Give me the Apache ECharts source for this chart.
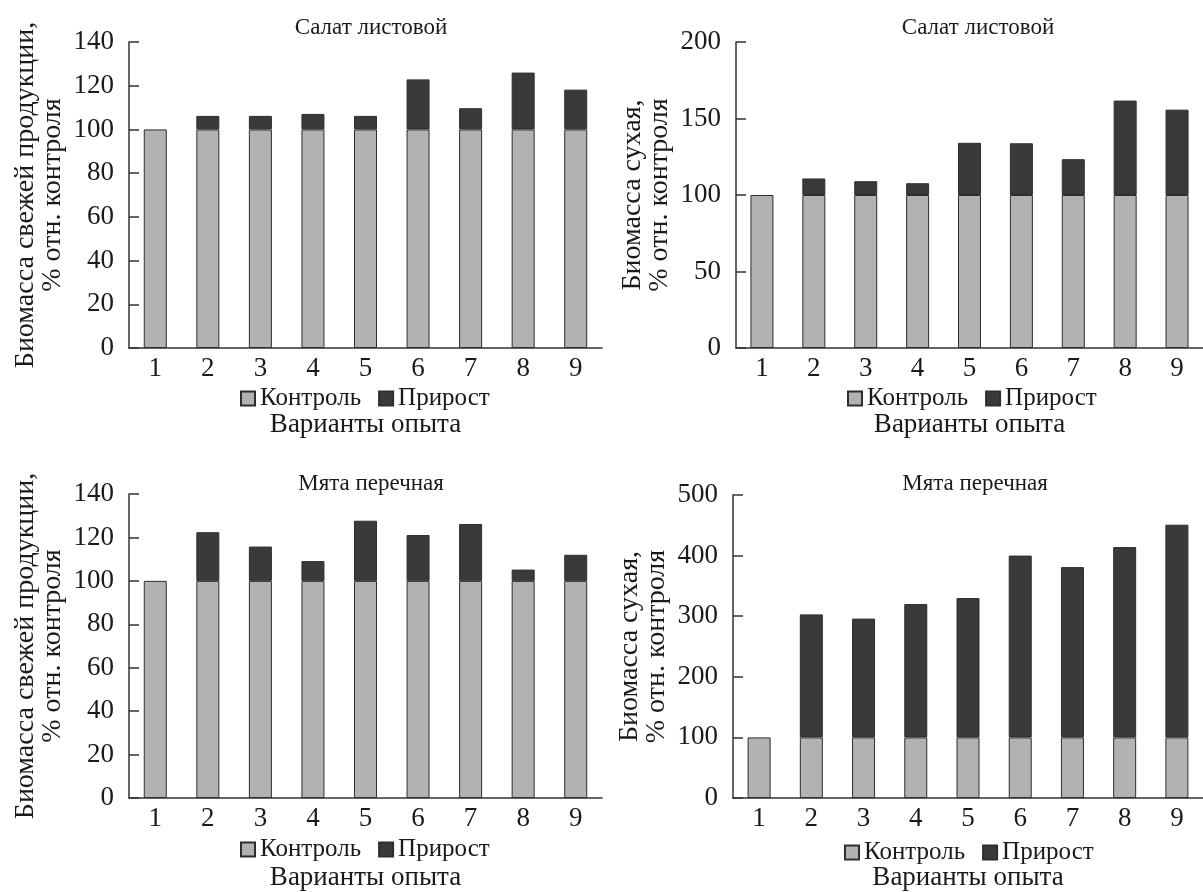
<!DOCTYPE html>
<html><head><meta charset="utf-8">
<script src="https://cdn.jsdelivr.net/npm/echarts@6/dist/echarts.min.js"></script>
<style>html,body{margin:0;padding:0;background:#fff}#c{width:1203px;height:892px}</style>
</head><body><div id="c"></div>
<script>
const categories = ['1','2','3','4','5','6','7','8','9'];
const seriesNames = ['Контроль', 'Прирост'];
const panelTitles = ['Салат листовой', 'Салат листовой', 'Мята перечная', 'Мята перечная'];
const yNames = ['Биомасса свежей продукции,\n% отн. контроля', 'Биомасса сухая,\n% отн. контроля',
                'Биомасса свежей продукции,\n% отн. контроля', 'Биомасса сухая,\n% отн. контроля'];
const xName = 'Варианты опыта';
const yMax = [140, 200, 140, 500];
const yStep = [20, 50, 20, 100];

// Panel 1: Салат листовой, fresh biomass
const control1 = [100,100,100,100,100,100,100,100,100];
const increase1 = [null,6.2,6.2,7.1,6.2,22.9,9.7,26.0,18.2];
// Panel 2: Салат листовой, dry biomass
const control2 = [100,100,100,100,100,100,100,100,100];
const increase2 = [null,10.8,9.0,7.7,34.1,33.8,23.4,61.7,55.8];
// Panel 3: Мята перечная, fresh biomass
const control3 = [100,100,100,100,100,100,100,100,100];
const increase3 = [null,22.4,15.8,9.1,27.7,21.1,26.2,5.2,12.0];
// Panel 4: Мята перечная, dry biomass
const control4 = [100,100,100,100,100,100,100,100,100];
const increase4 = [null,203,196,220,230,300,281,314,351];

const controls = [control1, control2, control3, control4];
const increases = [increase1, increase2, increase3, increase4];

const FONT = '"Liberation Serif", "DejaVu Serif", serif';
const TXT = '#1a1a1a';
const AX = '#333333';
const grids = [
  {left:129, top:42, width:473, height:306},
  {left:736, top:42, width:475, height:306},
  {left:129, top:494, width:473, height:306},
  {left:733, top:495, width:475, height:307}
];
const titlePos = [[366,11],[973,11],[366,467],[970,467]];
const legendPos = [[235,381],[842,381],[235,832],[839,835]];
const xNameGap = [63, 63, 66, 66];

const option = {
  animation:false,
  backgroundColor:'#fff',
  title: panelTitles.map((t,i)=>({text:t, left:titlePos[i][0], top:titlePos[i][1], textAlign:'center',
    textStyle:{fontFamily:FONT, fontSize:23, fontWeight:'normal', color:TXT}})),
  legend: legendPos.map((p,i)=>({data:seriesNames, left:p[0], top:p[1], itemWidth:14, itemHeight:14, itemGap:17,
    icon:'rect', selectedMode:false, textStyle:{fontFamily:FONT, fontSize:25, color:TXT}})),
  grid: grids,
  xAxis: grids.map((g,i)=>({type:'category', gridIndex:i, data:categories, boundaryGap:true,
    name:xName, nameLocation:'middle', nameGap:xNameGap[i],
    nameTextStyle:{fontFamily:FONT, fontSize:27, color:TXT},
    axisLine:{lineStyle:{color:AX, width:1.5}}, axisTick:{show:false},
    axisLabel:{fontFamily:FONT, fontSize:27, color:TXT, margin:7}})),
  yAxis: grids.map((g,i)=>({type:'value', gridIndex:i, min:0, max:yMax[i], interval:yStep[i],
    name:yNames[i], nameLocation:'middle', nameRotate:90, nameGap:63,
    nameTextStyle:{fontFamily:FONT, fontSize:28, color:TXT, lineHeight:27},
    axisLine:{show:true, lineStyle:{color:AX, width:1.5}},
    axisTick:{show:true, inside:true, length:10, lineStyle:{color:AX, width:1.5}},
    splitLine:{show:false},
    axisLabel:{fontFamily:FONT, fontSize:27, color:TXT, margin:15}})),
  series: []
};
for (let i=0;i<4;i++){
  option.series.push({name:seriesNames[0], type:'bar', xAxisIndex:i, yAxisIndex:i, stack:'s'+i, barWidth:23,
    data:controls[i], itemStyle:{color:'#b2b2b2', borderColor:'#2e2e2e', borderWidth:1}});
  option.series.push({name:seriesNames[1], type:'bar', xAxisIndex:i, yAxisIndex:i, stack:'s'+i, barWidth:23,
    data:increases[i], itemStyle:{color:'#3a3a3a', borderColor:'#2e2e2e', borderWidth:1}});
}
const chart = echarts.init(document.getElementById('c'), null, {renderer:'canvas'});
chart.setOption(option);
</script></body></html>
